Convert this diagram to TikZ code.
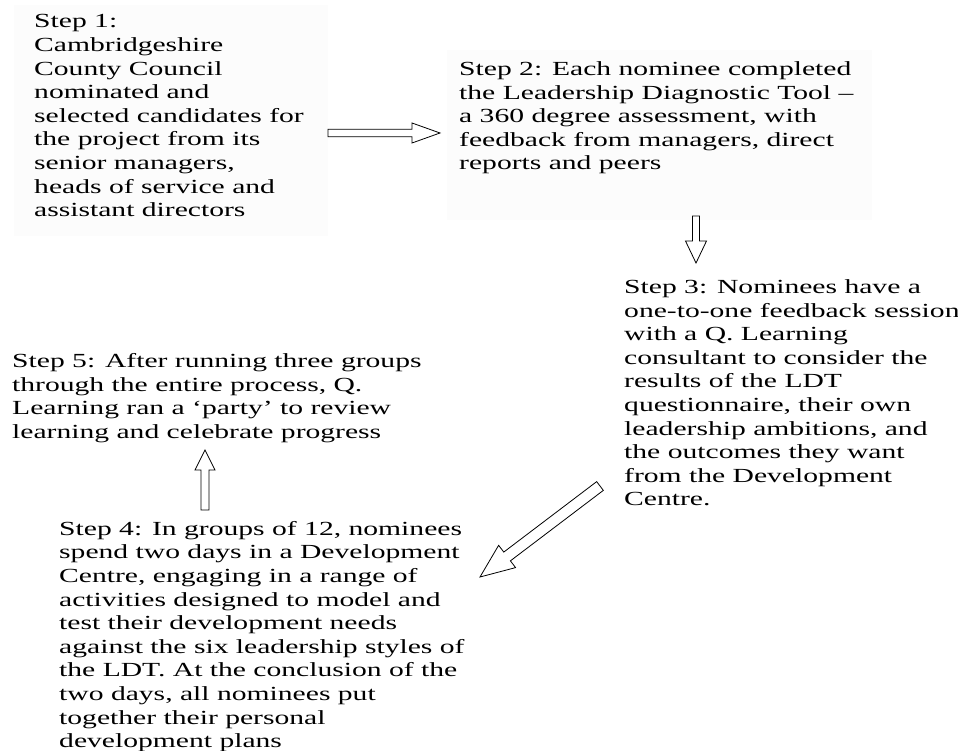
\documentclass[tikz,border=0pt]{standalone}
\usepackage{fontspec}
\setmainfont[FakeStretch=1.48]{Liberation Serif}
\usetikzlibrary{calc}

\newcommand{\hollowarrow}[5]{%
  \coordinate (#1-hb) at ($(#2)!#5!(#1)$);
  \draw[blockarrow] ($(#1)!#3!90:(#2)$) -- ($(#1-hb)!#3!90:(#2)$)
    -- ($(#1-hb)!#4!90:(#2)$) -- (#2) -- ($(#1-hb)!#4!-90:(#2)$)
    -- ($(#1-hb)!#3!-90:(#2)$) -- ($(#1)!#3!-90:(#2)$) -- cycle;}

\begin{document}
\begin{tikzpicture}[x=1pt,y=-1pt,
    blockarrow/.style={draw=black,fill=white,line width=0.8pt,line join=miter},
    faintbox/.style={fill=black!1.2}]
  \useasboundingbox (0,0) rectangle (958,751);
  \fill[faintbox] (14,5) rectangle (328,236);
  \fill[faintbox] (447,50) rectangle (872,220);
  \begin{scope}[every node/.style={anchor=north west,align=left,inner sep=0pt,
      font=\fontsize{20pt}{23.6pt}\selectfont}]
    \node (step1) at (34,14.4) {Step 1:\\Cambridgeshire\\County Council\\nominated and\\selected candidates for\\the project from its\\senior managers,\\heads of service and\\assistant directors};
    \node (step2) at (459,61.4) {Step 2: Each nominee completed\\the Leadership Diagnostic Tool –\\a 360 degree assessment, with\\feedback from managers, direct\\reports and peers};
    \node (step3) at (624,279.4) {Step 3: Nominees have a\\one-to-one feedback session\\with a Q. Learning\\consultant to consider the\\results of the LDT\\questionnaire, their own\\leadership ambitions, and\\the outcomes they want\\from the Development\\Centre.};
    \node (step4) at (59,521) {Step 4: In groups of 12, nominees\\spend two days in a Development\\Centre, engaging in a range of\\activities designed to model and\\test their development needs\\against the six leadership styles of\\the LDT. At the conclusion of the\\two days, all nominees put\\together their personal\\development plans};
    \node (step5) at (12,353.4) {Step 5: After running three groups\\through the entire process, Q.\\Learning ran a ‘party’ to review\\learning and celebrate progress};
  \end{scope}
  % arrow ends
  \coordinate (a12) at (328,133);
  \coordinate (b12) at (440,133);
  \coordinate (a23) at (696,216);
  \coordinate (b23) at (696,263);
  \coordinate (a34) at (600,486);
  \coordinate (b34) at (480,577);
  \coordinate (a45) at (205,510);
  \coordinate (b45) at (205,450);
  \hollowarrow{a12}{b12}{3.7pt}{10pt}{28pt}
  \hollowarrow{a23}{b23}{3.5pt}{10.5pt}{22pt}
  \hollowarrow{a34}{b34}{5.5pt}{14pt}{34pt}
  \hollowarrow{a45}{b45}{4pt}{10pt}{20pt}
\end{tikzpicture}
\end{document}
